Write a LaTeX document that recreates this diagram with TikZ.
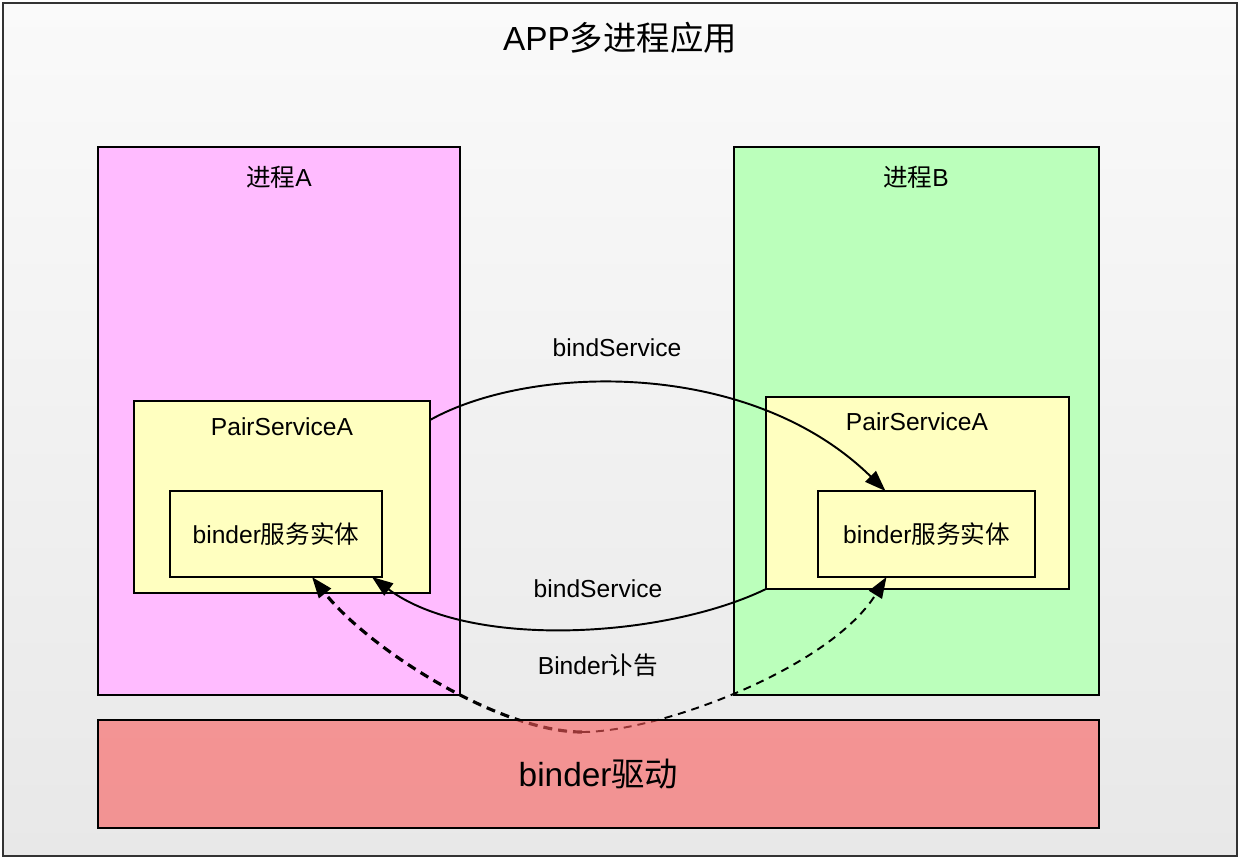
\documentclass[tikz,border=0pt]{standalone}
\usepackage{fontspec}
\setmainfont{Liberation Sans}
\newfontfamily\cjk{Noto Sans CJK SC}
\usetikzlibrary{calc,arrows.meta,positioning}

\definecolor{bgtop}{HTML}{FAFAFA}
\definecolor{bgbot}{HTML}{E8E8E8}
\definecolor{procpink}{HTML}{FFBBFF}
\definecolor{procgreen}{HTML}{BBFFBB}
\definecolor{servyellow}{HTML}{FFFFC0}
\definecolor{driverred}{HTML}{F95A5A}

\tikzset{
  box/.style={draw=black, line width=1.1pt, rectangle, inner sep=0pt, outer sep=0pt},
  txt/.style={font=\fontsize{14}{16}\selectfont, inner sep=0pt},
  big/.style={font=\fontsize{19}{22}\selectfont, inner sep=0pt},
  tip/.style={-{Triangle[length=0.42cm,width=0.3cm]}},
  callarrow/.style={line width=1.1pt, tip},
}

\begin{document}
\begin{tikzpicture}[x=0.02cm, y=-0.02cm]
			%%%%% FRAME %%%%%
			\useasboundingbox (0, 0) rectangle (1240, 859);
			\draw[line width=1.2pt, draw=black!80, top color=bgtop, bottom color=bgbot] (3, 3) rectangle (1237, 856);
			\node[big] (title) at (620, 38) {APP{\cjk 多进程应用}};
			
			%%%%% PROCESSES %%%%%
			\node[box, fill=procpink, minimum width=7.24cm, minimum height=10.96cm] (procA) at (279, 421) {};
			\node[box, fill=procgreen, minimum width=7.3cm, minimum height=10.96cm] (procB) at (916.5, 421) {};
			\node[txt] (labA) at (279, 177) {{\cjk 进程}A};
			\node[txt] (labB) at (916, 177) {{\cjk 进程}B};
			
			\node[box, fill=servyellow, minimum width=5.92cm, minimum height=3.84cm] (pairA) at (282, 497) {};
			\node[box, fill=servyellow, minimum width=6.06cm, minimum height=3.84cm] (pairB) at (917.5, 493) {};
			\node[txt] (labPairA) at (282, 427) {PairServiceA};
			\node[txt] (labPairB) at (917, 422) {PairServiceA};
			
			\node[box, fill=servyellow, minimum width=4.24cm, minimum height=1.72cm, txt] (entA) at (276, 534) {binder{\cjk 服务实体}};
			\node[box, fill=servyellow, minimum width=4.34cm, minimum height=1.72cm, txt] (entB) at (926.5, 534) {binder{\cjk 服务实体}};
			
			%%%%% CALLS %%%%%
			\draw[callarrow] ($(pairA.north east)+(0, 19)$) .. controls (530, 364) and (750, 358) .. ($(entB.north)+(-41, 0)$);
			\node[txt] (labBindTop) at (617, 348) {bindService};
			
			\draw[callarrow] (pairB.south west) .. controls (665, 638) and (470, 650) .. ($(entA.south east)+(-10, 0)$);
			\node[txt] (labBindBot) at (598, 589) {bindService};
			
			%%%%% DEATH NOTICE %%%%%
			\coordinate (dip) at (582, 732);
			\draw[line width=1.8pt, dash pattern=on 0.18cm off 0.12cm, tip] (dip) .. controls (500, 732) and (370, 650) .. ($(entA.south)+(36, 0)$);
			\draw[line width=1.1pt, dash pattern=on 0.16cm off 0.12cm, tip] (dip) .. controls (660, 732) and (830, 668) .. ($(entB.south)+(-40, 0)$);
			\node[txt] (labNotice) at (598, 665) {Binder{\cjk 讣告}};
			
			%%%%% DRIVER %%%%%
			\node[box, fill=driverred, fill opacity=0.6, text opacity=1, minimum width=20.02cm, minimum height=2.16cm, big] (driver) at (598.5, 774) {binder{\cjk 驱动}};
		\end{tikzpicture}
\end{document}
